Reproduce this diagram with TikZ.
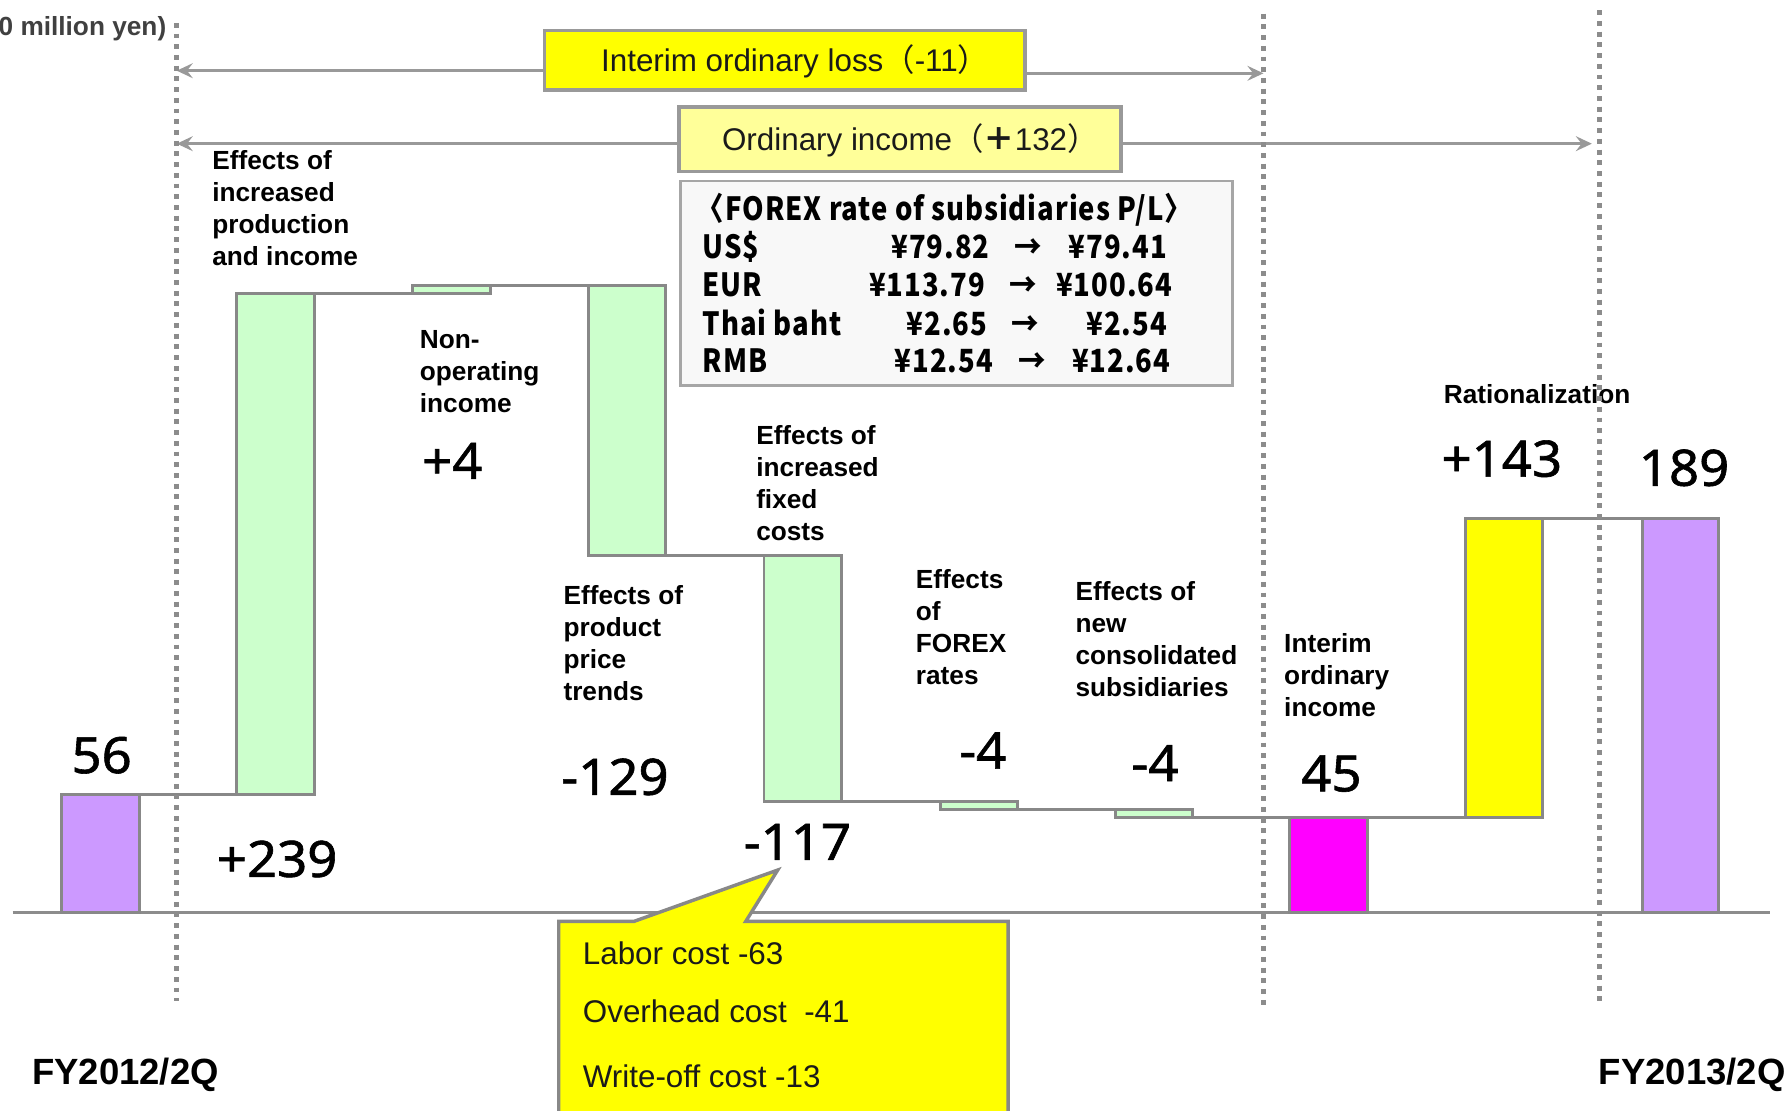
\documentclass[tikz,border=0pt]{standalone}
\usepackage{fontspec}
\setmainfont{Liberation Sans}
\newfontfamily\numfont{Noto Sans}[FakeStretch=1.05, FakeBold=1.2]
\newfontfamily\cjkfont{Noto Sans CJK JP}
\newfontfamily\fxfont{Noto Sans CJK JP}[FakeStretch=0.86, LetterSpace=3]
\usetikzlibrary{arrows.meta}

\definecolor{barline}{HTML}{888888}
\definecolor{axisgray}{HTML}{8C8C8C}
\definecolor{arrowgray}{HTML}{999999}
\definecolor{mintfill}{HTML}{CCFFCC}
\definecolor{lavfill}{HTML}{CC99FF}
\definecolor{magfill}{HTML}{FF00FF}
\definecolor{yelfill}{HTML}{FFFF00}
\definecolor{paleyel}{HTML}{FFFF99}
\definecolor{fxback}{HTML}{F8F8F8}
\definecolor{fxline}{HTML}{A6A6A6}
\definecolor{textdark}{HTML}{1A1A1A}
\definecolor{unitgray}{HTML}{404040}

% left-aligned stack of lines whose reference point is the first baseline
\newcommand\lblstack[1]{\vtop{\halign{##\hfil\cr#1\crcr}}}

\begin{document}
\begin{tikzpicture}[x=1pt,y=-1pt,
  barbox/.style={draw=barline, line width=2.6pt, minimum width=68pt, inner sep=0pt, outer sep=0pt},
  joinline/.style={draw=barline, line width=2.6pt},
  axisline/.style={draw=axisgray, line width=2.6pt},
  guide/.style={draw=axisgray, line width=4.3pt, dash pattern=on 4.3pt off 5.1pt},
  spanarrow/.style={draw=arrowgray, line width=3pt, -{Stealth[length=14pt,width=13pt,inset=5pt]}},
  topbox/.style={draw=arrowgray, line width=3pt, inner sep=0pt, outer sep=0pt,
    text height=19.5pt, text depth=0pt, text=textdark, font=\fontsize{27.5}{33}\selectfont},
  lbl/.style={inner sep=0pt, anchor=base west, font=\bfseries\fontsize{23}{28}\selectfont},
  num/.style={inner sep=0pt, anchor=base west, font=\numfont\fontsize{44}{50}\selectfont},
  fx/.style={inner sep=0pt, text=black, font=\fxfont\bfseries\fontsize{28}{34}\selectfont},
  note/.style={inner sep=0pt, anchor=base west, text=textdark, font=\fontsize{27.5}{33}\selectfont},
  period/.style={inner sep=0pt, font=\bfseries\fontsize{32}{38}\selectfont},
]
\useasboundingbox (0,0) rectangle (1568,974);

% unit caption
\node[inner sep=0pt, anchor=base east, text=unitgray, font=\bfseries\fontsize{23}{28}\selectfont]
  (unit) at (146,30.7) {0 million yen)};

% horizontal axis
\coordinate (axL) at (11,800);
\coordinate (axR) at (1552,800);
\draw[axisline] (axL) -- (axR);

% waterfall bars
\node[barbox, fill=lavfill,  minimum height=103pt, anchor=south west] (b1)  at (54,800) {};
\node[barbox, fill=mintfill, minimum height=440pt, anchor=south west] (b2)  at (207.5,697) {};
\node[barbox, fill=mintfill, minimum height=7pt,   anchor=south west] (b3)  at (362,257) {};
\node[barbox, fill=mintfill, minimum height=237pt, anchor=north west] (b4)  at (516,250) {};
\node[barbox, fill=mintfill, minimum height=216pt, anchor=north west] (b5)  at (670,487) {};
\node[barbox, fill=mintfill, minimum height=7pt,   anchor=north west] (b6)  at (824.5,703) {};
\node[barbox, fill=mintfill, minimum height=7pt,   anchor=north west] (b7)  at (978,710) {};
\node[barbox, fill=magfill,  minimum height=83pt,  anchor=south west] (b8)  at (1131,800) {};
\node[barbox, fill=yelfill,  minimum height=262pt, anchor=south west] (b9)  at (1285,717) {};
\node[barbox, fill=lavfill,  minimum height=345pt, anchor=south west, minimum width=67pt] (b10) at (1440,800) {};

% step lines between bars
\draw[joinline] (b1.north east) -- (b2.south west);
\draw[joinline] (b2.north east) -- (b3.south west);
\draw[joinline] (b3.north east) -- (b4.north west);
\draw[joinline] (b4.south east) -- (b5.north west);
\draw[joinline] (b5.south east) -- (b6.north west);
\draw[joinline] (b6.south east) -- (b7.north west);
\draw[joinline] (b7.south east) -- (b8.north west);
\draw[joinline] (b8.north east) -- (b9.south west);
\draw[joinline] (b9.north east) -- (b10.north west);

% bar captions
\node[lbl] (t2) at (186,149) {\lblstack{Effects of\cr increased\cr production\cr and income}};
\node[lbl] (t3) at (368,306) {\lblstack{Non-\cr operating\cr income}};
\node[lbl] (t4) at (494,530) {\lblstack{Effects of\cr product\cr price\cr trends}};
\node[lbl] (t5) at (663,390) {\lblstack{Effects of\cr increased\cr fixed\cr costs}};
\node[lbl] (t6) at (803,516) {\lblstack{Effects\cr of\cr FOREX\cr rates}};
\node[lbl] (t7) at (943,527) {\lblstack{Effects of\cr new\cr consolidated\cr subsidiaries}};
\node[lbl] (t8) at (1126,572) {\lblstack{Interim\cr ordinary\cr income}};
\node[lbl] (t9) at (1266,354) {Rationalization};

% bar values
\node[num] (n1)  at (62.5,678) {56};
\node[num] (n2)  at (190,769) {+239};
\node[num] (n3)  at (370,420) {+4};
\node[num] (n4)  at (492,697) {-129};
\node[num] (n5)  at (652,754) {-117};
\node[num] (n6)  at (841,674) {-4};
\node[num] (n7)  at (992,685) {-4};
\node[num] (n8)  at (1141,694) {45};
\node[num] (n9)  at (1264,418) {+143};
\node[num] (n10) at (1437,426) {189};

% period captions
\node[period, anchor=base west] (p1) at (28,951) {FY2012/2Q};
\node[period, anchor=base east] (p2) at (1566,951) {FY2013/2Q};

% span boxes with arrows
\node[topbox, fill=yelfill, minimum width=421.4pt, minimum height=52pt] (ilbox) at (688.3,53)
  {\hspace*{18pt}Interim ordinary loss{\cjkfont （}-11{\cjkfont ）}};
\node[topbox, fill=paleyel, minimum width=387.5pt, minimum height=56.6pt] (oibox) at (789.3,122.3)
  {\hspace*{18pt}Ordinary income{\cjkfont （\textbf{＋}}132{\cjkfont ）}};
\coordinate (ilL) at (155,62);
\coordinate (ilR) at (1108,64.3);
\coordinate (oiL) at (155,126);
\coordinate (oiR) at (1396,126);
\draw[spanarrow] (ilbox.west |- ilL) -- (ilL);
\draw[spanarrow] (ilbox.east |- ilR) -- (ilR);
\draw[spanarrow] (oibox.west |- oiL) -- (oiL);
\draw[spanarrow] (oibox.east |- oiR) -- (oiR);

% exchange rate table
\node[draw=fxline, fill=fxback, line width=2.2pt, inner sep=0pt, outer sep=0pt,
  minimum width=484.3pt, minimum height=179.5pt] (fxbox) at (838.85,248.45) {};
\node[fx, anchor=base west] (fxt) at (611,193) {〈FOREX rate of subsidiaries P/L〉};
\node[fx, anchor=base west] (c1) at (616,226.5) {US\$};
\node[fx, anchor=base east] (o1) at (868,226.5) {¥79.82};
\node[fx, anchor=base]      (a1) at (902,226.5) {→};
\node[fx, anchor=base east] (w1) at (1023.5,226.5) {¥79.41};
\node[fx, anchor=base west] (c2) at (616,260) {EUR};
\node[fx, anchor=base east] (o2) at (864,260) {¥113.79};
\node[fx, anchor=base]      (a2) at (897,260) {→};
\node[fx, anchor=base east] (w2) at (1028,260) {¥100.64};
\node[fx, anchor=base west] (c3) at (616,293.8) {Thai baht};
\node[fx, anchor=base east] (o3) at (866,293.8) {¥2.65};
\node[fx, anchor=base]      (a3) at (899,293.8) {→};
\node[fx, anchor=base east] (w3) at (1023.5,293.8) {¥2.54};
\node[fx, anchor=base west] (c4) at (616,326.8) {RMB};
\node[fx, anchor=base east] (o4) at (871,326.8) {¥12.54};
\node[fx, anchor=base]      (a4) at (905,326.8) {→};
\node[fx, anchor=base east] (w4) at (1026.5,326.8) {¥12.64};

% fixed cost breakdown callout
\coordinate (cTL) at (490,808);
\coordinate (cP1) at (556,808);
\coordinate (cTip) at (682,763);
\coordinate (cP2) at (654,808);
\coordinate (cTR) at (884,808);
\coordinate (cBR) at (884,1000);
\coordinate (cBL) at (490,1000);
\draw[draw=barline, line width=3pt, fill=yelfill]
  (cBL) -- (cTL) -- (cP1) -- (cTip) -- (cP2) -- (cTR) -- (cBR) -- cycle;
\node[note] (k1) at (511,846) {Labor cost -63};
\node[note] (k2) at (511,897) {Overhead cost\ \ -41};
\node[note] (k3) at (511,954) {Write-off cost -13};

% dotted period separators
\coordinate (gA1) at (155,20);   \coordinate (gA2) at (155,878);
\coordinate (gB1) at (1108,12);  \coordinate (gB2) at (1108,885);
\coordinate (gC1) at (1403,9);   \coordinate (gC2) at (1403,880);
\draw[guide] (gA1) -- (gA2);
\draw[guide] (gB1) -- (gB2);
\draw[guide] (gC1) -- (gC2);
\end{tikzpicture}
\end{document}
